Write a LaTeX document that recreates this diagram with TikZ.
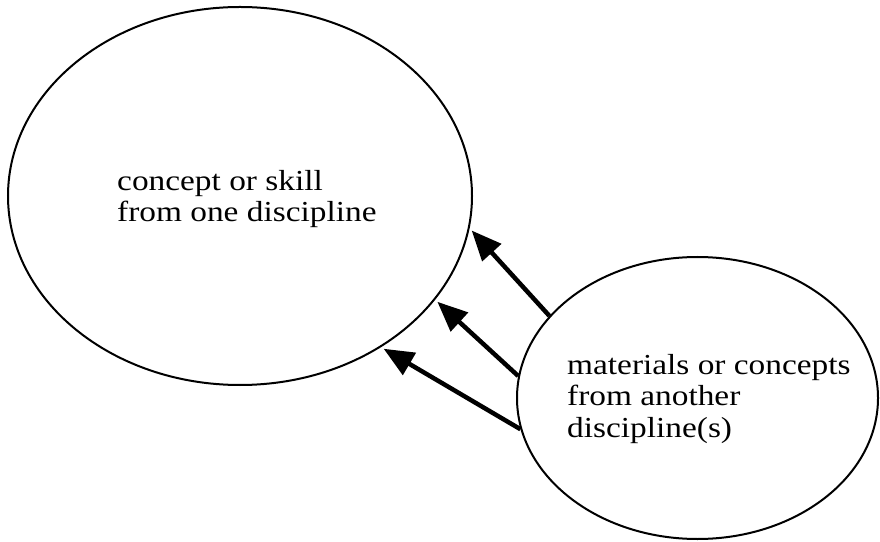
\documentclass[tikz,border=0pt]{standalone}
\usepackage{fontspec}
\setmainfont{Liberation Serif}[FakeStretch=1.15]
\usetikzlibrary{arrows.meta,shapes.geometric}
\begin{document}
\begin{tikzpicture}[x=1pt,y=1pt,
        blob/.style={draw, ellipse, line width=2pt, inner sep=0pt},
        txt/.style={align=left, inner sep=0pt, font=\fontsize{29}{31.5}\selectfont},
        feed/.style={-{Triangle[length=30pt,width=25pt]}, line width=4.5pt, shorten >=3pt}]
        \useasboundingbox (0,0) rectangle (880,541);

        \node[blob, minimum width=464pt, minimum height=378pt] (big) at (240,345) {};
        \node[blob, minimum width=361pt, minimum height=282pt] (small) at (697.5,143) {};

        \node[txt, anchor=base west] (bigtxt) at (117,319) {concept or skill\\from one discipline};
        \node[txt, anchor=base west] (smalltxt) at (567,104) {materials or concepts\\from another\\discipline(s)};

        \draw[feed] (small.151) -- (big.-8);
        \draw[feed] (small.173) -- (big.-28.5);
        \draw[feed] (small.190) -- (big.-47);
    \end{tikzpicture}
\end{document}
